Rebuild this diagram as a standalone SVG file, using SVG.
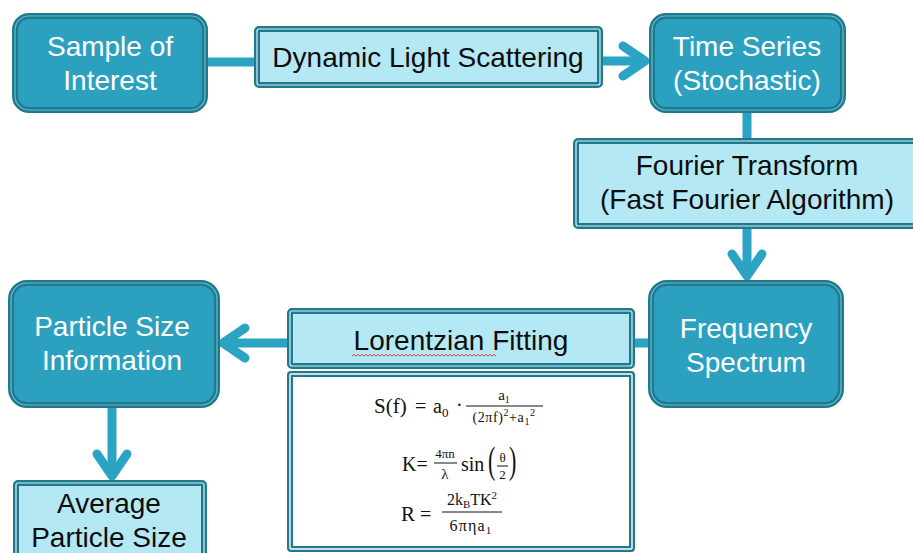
<svg xmlns="http://www.w3.org/2000/svg" width="913" height="553" viewBox="0 0 913 553">
  <style>
    .node-bg{fill:#2ca1bf;stroke:#21798e;stroke-width:6}
    .node-line{fill:none;stroke:#62bcd3;stroke-width:1.2}
    .box-bg{fill:#b4e8f4;stroke:#21798e;stroke-width:6}
    .box-line{fill:none;stroke:#d4f2f9;stroke-width:1.2}
    .sheet-bg{fill:#ffffff;stroke:#21798e;stroke-width:6}
    .sheet-line{fill:none;stroke:#ffffff;stroke-width:1.4}
    .lbl{font-family:"Liberation Sans",Arial,sans-serif;font-size:28px;text-anchor:middle}
    .w{fill:#ffffff}
    .k{fill:#0d0d0d}
    .link{fill:none;stroke:#2ba3c2;stroke-width:9}
    .head{fill:none;stroke:#2ba3c2;stroke-width:9;stroke-linecap:round;stroke-linejoin:round}
    .math{font-family:"Liberation Serif","DejaVu Serif",serif;fill:#111111}
    .bar{stroke:#111111;stroke-width:1}
    .mid{text-anchor:middle}
  </style>

  <!-- connectors -->
  <g id="connectors">
    <line class="link" x1="205" y1="62" x2="258" y2="62"/>
    <line class="link" x1="600" y1="61" x2="645" y2="61"/>
    <polyline class="head" points="623,46 645,61 623,76"/>
    <line class="link" x1="747" y1="110" x2="747" y2="141"/>
    <line class="link" x1="747" y1="226" x2="747" y2="276"/>
    <polyline class="head" points="732,254 747,276 762,254"/>
    <line class="link" x1="651" y1="343" x2="223" y2="343"/>
    <polyline class="head" points="245,328 223,343 245,358"/>
    <line class="link" x1="112" y1="406" x2="112" y2="476"/>
    <polyline class="head" points="97,454 112,476 127,454"/>
  </g>

  <g id="sample">
    <rect class="node-bg" x="15" y="16" width="190" height="94" rx="14"/>
    <rect class="node-line" x="15" y="16" width="190" height="94" rx="14"/>
    <text class="lbl w" x="110" y="56">Sample of</text>
    <text class="lbl w" x="110" y="90">Interest</text>
  </g>

  <g id="dls">
    <rect class="box-bg" x="257" y="29" width="343" height="56" rx="2"/>
    <rect class="box-line" x="257" y="29" width="343" height="56" rx="2"/>
    <text class="lbl k" x="428" y="67">Dynamic Light Scattering</text>
  </g>

  <g id="time-series">
    <rect class="node-bg" x="652" y="16" width="191" height="94" rx="14"/>
    <rect class="node-line" x="652" y="16" width="191" height="94" rx="14"/>
    <text class="lbl w" x="747" y="56">Time Series</text>
    <text class="lbl w" x="747" y="90">(Stochastic)</text>
  </g>

  <g id="fourier">
    <rect class="box-bg" x="576" y="141" width="360" height="85" rx="2"/>
    <rect class="box-line" x="576" y="141" width="360" height="85" rx="2"/>
    <text class="lbl k" x="747" y="175">Fourier Transform</text>
    <text class="lbl k" x="747" y="209">(Fast Fourier Algorithm)</text>
  </g>

  <g id="frequency">
    <rect class="node-bg" x="651" y="283" width="190" height="122" rx="16"/>
    <rect class="node-line" x="651" y="283" width="190" height="122" rx="16"/>
    <text class="lbl w" x="746" y="338">Frequency</text>
    <text class="lbl w" x="746" y="372">Spectrum</text>
  </g>

  <g id="lorentzian">
    <rect class="box-bg" x="290" y="311" width="342" height="55" rx="2"/>
    <rect class="box-line" x="290" y="311" width="342" height="55" rx="2"/>
    <text class="lbl k" x="461" y="350">Lorentzian Fitting</text>
    <!-- spell-check squiggle -->
    <path d="M352,356 l2,-1.6 2,1.6 2,-1.6 2,1.6 2,-1.6 2,1.6 2,-1.6 2,1.6 2,-1.6 2,1.6 2,-1.6 2,1.6 2,-1.6 2,1.6 2,-1.6 2,1.6 2,-1.6 2,1.6 2,-1.6 2,1.6 2,-1.6 2,1.6 2,-1.6 2,1.6 2,-1.6 2,1.6 2,-1.6 2,1.6 2,-1.6 2,1.6 2,-1.6 2,1.6 2,-1.6 2,1.6 2,-1.6 2,1.6 2,-1.6 2,1.6 2,-1.6 2,1.6 2,-1.6 2,1.6 2,-1.6 2,1.6 2,-1.6 2,1.6 2,-1.6 2,1.6 2,-1.6 2,1.6 2,-1.6 2,1.6 2,-1.6 2,1.6 2,-1.6 2,1.6 2,-1.6 2,1.6 2,-1.6 2,1.6 2,-1.6 2,1.6 2,-1.6 2,1.6 2,-1.6 2,1.6 2,-1.6 2,1.6 2,-1.6 2,1.6 2,-1.6 2,1.6" fill="none" stroke="#e03030" stroke-width="0.9"/>
  </g>

  <g id="equations">
    <rect class="sheet-bg" x="290" y="374" width="342" height="175" rx="1"/>
    <rect class="sheet-line" x="290" y="374" width="342" height="175" rx="1"/>
    <!-- Lorentzian spectrum -->
    <text class="math" x="374" y="413" font-size="21">S(f)</text>
    <text class="math" x="415" y="413" font-size="20">=</text>
    <text class="math" x="433" y="413" font-size="20">a<tspan font-size="13" dy="4">0</tspan></text>
    <text class="math" x="456" y="412" font-size="20">·</text>
    <line class="bar" x1="466" y1="406" x2="543" y2="406"/>
    <text class="math mid" x="504" y="400" font-size="15">a<tspan font-size="10" dy="3">1</tspan></text>
    <text class="math mid" x="504" y="422" font-size="14" letter-spacing="0.6">(2πf)<tspan font-size="10" dy="-6">2</tspan><tspan dy="6">+a</tspan><tspan font-size="10" dy="3">1</tspan><tspan font-size="10" dy="-9">2</tspan></text>
    <!-- scattering vector -->
    <text class="math" x="402" y="471" font-size="20">K=</text>
    <text class="math mid" x="445" y="458" font-size="13">4πn</text>
    <line class="bar" x1="434" y1="463" x2="457" y2="463"/>
    <text class="math mid" x="445" y="479" font-size="15">λ</text>
    <text class="math" x="461" y="471" font-size="20">sin</text>
    <text class="math" transform="translate(488,473) scale(0.85,1.45)" font-size="26">(</text>
    <text class="math mid" x="502.5" y="462" font-size="13">θ</text>
    <line class="bar" x1="497" y1="466" x2="508" y2="466"/>
    <text class="math mid" x="502.5" y="479" font-size="13">2</text>
    <text class="math" transform="translate(509,473) scale(0.85,1.45)" font-size="26">)</text>
    <!-- particle radius -->
    <text class="math" x="401" y="521" font-size="21">R</text>
    <text class="math" x="420" y="521" font-size="20">=</text>
    <text class="math mid" x="472" y="505" font-size="16">2k<tspan font-size="11" dy="3">B</tspan><tspan dy="-3">TK</tspan><tspan font-size="11" dy="-6">2</tspan></text>
    <line class="bar" x1="442" y1="512" x2="502" y2="512"/>
    <text class="math mid" x="471" y="531" font-size="16" letter-spacing="1.2">6πηa<tspan font-size="11" dy="3">1</tspan></text>
  </g>

  <g id="particle-info">
    <rect class="node-bg" x="11" y="283" width="206" height="122" rx="16"/>
    <rect class="node-line" x="11" y="283" width="206" height="122" rx="16"/>
    <text class="lbl w" x="112" y="336">Particle Size</text>
    <text class="lbl w" x="112" y="370">Information</text>
  </g>

  <g id="average">
    <rect class="box-bg" x="16" y="483" width="188" height="90" rx="2"/>
    <rect class="box-line" x="16" y="483" width="188" height="90" rx="2"/>
    <text class="lbl k" x="109" y="513">Average</text>
    <text class="lbl k" x="109" y="547">Particle Size</text>
  </g>
</svg>
